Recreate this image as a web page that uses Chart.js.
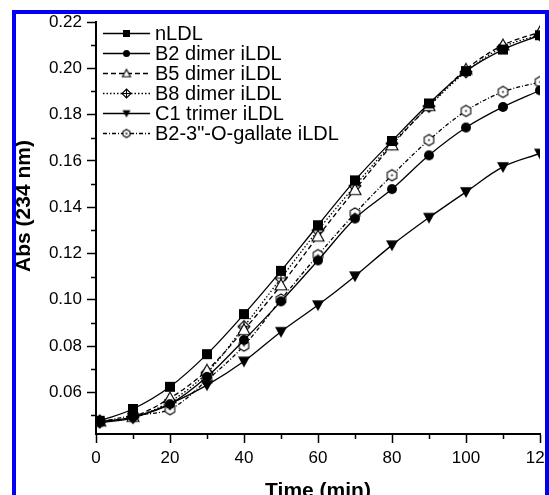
<!DOCTYPE html>
<html>
<head>
<meta charset="utf-8">
<script src="https://cdn.jsdelivr.net/npm/chart.js@4.4.1/dist/chart.umd.min.js"></script>
<style>
  html, body { margin: 0; padding: 0; background: #fff; overflow: hidden; }
  #wrap { position: relative; width: 549px; height: 495px; }
  #frame {
    position: absolute; left: 12px; top: 10px; width: 537px; height: 600px;
    box-sizing: border-box; border: 4px solid rgb(0, 0, 245); pointer-events: none;
  }
</style>
</head>
<body>
<div id="wrap">
  <canvas id="c" width="549" height="495"></canvas>
  <div id="frame"></div>
</div>
<script>
// Sampling times (min)
const times = [1, 10, 20, 30, 40, 50, 60, 70, 80, 90, 100, 110, 120];

// Absorbance at 234 nm for each LDL preparation
const nLDL      = [0.0477, 0.0528, 0.0624, 0.0765, 0.0938, 0.1125, 0.1322, 0.1516, 0.1686, 0.1848, 0.1988, 0.2081, 0.2143];
const b2Dimer   = [0.0472, 0.0493, 0.0549, 0.0667, 0.0826, 0.0993, 0.1170, 0.1351, 0.1478, 0.1624, 0.1744, 0.1833, 0.1905];
const b5Dimer   = [0.0475, 0.0495, 0.0575, 0.0695, 0.0870, 0.1063, 0.1274, 0.1475, 0.1668, 0.1838, 0.1995, 0.2100, 0.2157];
const b8Dimer   = [0.0475, 0.0492, 0.0560, 0.0685, 0.0884, 0.1093, 0.1300, 0.1492, 0.1675, 0.1836, 0.1985, 0.2092, 0.2145];
const c1Trimer  = [0.0468, 0.0490, 0.0550, 0.0631, 0.0734, 0.0862, 0.0977, 0.1102, 0.1236, 0.1355, 0.1466, 0.1574, 0.1632];
const b2Gallate = [0.0473, 0.0500, 0.0527, 0.0653, 0.0802, 0.1001, 0.1193, 0.1373, 0.1538, 0.1690, 0.1816, 0.1898, 0.1941];

const seriesLabels = ['nLDL', 'B2 dimer iLDL', 'B5 dimer iLDL', 'B8 dimer iLDL', 'C1 trimer iLDL', 'B2-3"-O-gallate iLDL'];

// Axis ticks
const xMajor = [0, 20, 40, 60, 80, 100, 120];
const xMinor = [10, 30, 50, 70, 90, 110];
const yMajor = [0.06, 0.08, 0.10, 0.12, 0.14, 0.16, 0.18, 0.20, 0.22];
const yMinor = [0.05, 0.07, 0.09, 0.11, 0.13, 0.15, 0.17, 0.19, 0.21];

const FONT = '"Liberation Sans", Arial, sans-serif';

// Marker glyphs drawn onto small canvases
function makeMarker(kind, s) {
  const pad = 2;
  const c = document.createElement('canvas');
  c.width = c.height = Math.ceil(s) + pad * 2;
  const g = c.getContext('2d');
  const m = c.width / 2, r = s / 2;
  g.lineWidth = 1.1;
  g.strokeStyle = '#000';
  g.fillStyle = '#000';
  g.beginPath();
  switch (kind) {
    case 'square':
      g.rect(m - r, m - r, s, s); g.fill(); break;
    case 'circle':
      g.arc(m, m, r, 0, Math.PI * 2); g.fill(); break;
    case 'triangleDown':
      g.moveTo(m - r, m - r * 0.8); g.lineTo(m + r, m - r * 0.8); g.lineTo(m, m + r);
      g.closePath(); g.fill(); break;
    case 'triangleOpen':
      g.moveTo(m, m - r); g.lineTo(m + r, m + r * 0.8); g.lineTo(m - r, m + r * 0.8);
      g.closePath(); g.fillStyle = '#fff'; g.fill(); g.stroke(); break;
    case 'diamondCross':
      g.moveTo(m, m - r); g.lineTo(m + r, m); g.lineTo(m, m + r); g.lineTo(m - r, m);
      g.closePath(); g.fillStyle = '#fff'; g.fill(); g.stroke();
      g.beginPath(); g.moveTo(m - r, m); g.lineTo(m + r, m); g.moveTo(m, m - r); g.lineTo(m, m + r); g.stroke();
      break;
    case 'hexDot':
      for (let i = 0; i < 6; i++) {
        const a = Math.PI / 6 + i * Math.PI / 3;
        const px = m + r * Math.cos(a), py = m + r * Math.sin(a);
        if (i === 0) g.moveTo(px, py); else g.lineTo(px, py);
      }
      g.closePath(); g.fillStyle = '#fff'; g.fill(); g.stroke();
      g.beginPath(); g.fillStyle = '#000'; g.arc(m, m, 0.9, 0, Math.PI * 2); g.fill();
      break;
  }
  return c;
}

const markerKinds = ['square', 'circle', 'triangleOpen', 'diamondCross', 'triangleDown', 'hexDot'];
const markerSizes = [10, 10, 12, 12, 12, 11];
const legendSizes = [7, 7, 8, 9, 8, 8];
const dashes = [[], [], [5, 3], [1.5, 2], [], [4, 2, 1, 2]];
const values = [nLDL, b2Dimer, b5Dimer, b8Dimer, c1Trimer, b2Gallate];

const chartMarkers = markerKinds.map((k, i) => makeMarker(k, markerSizes[i]));
const legendMarkers = markerKinds.map((k, i) => makeMarker(k, legendSizes[i]));

const datasets = values.map((vals, i) => ({
  label: seriesLabels[i],
  data: times.map((t, j) => ({ x: t, y: vals[j] })),
  borderColor: '#000',
  borderWidth: 1.3,
  borderDash: dashes[i],
  pointStyle: chartMarkers[i],
  pointRadius: 6,
  tension: 0.35,
  fill: false
}));

// Minor ticks, axis titles and the in-plot legend
const decorations = {
  id: 'decorations',
  afterDraw(chart) {
    const ctx = chart.ctx;
    const xs = chart.scales.x, ys = chart.scales.y;
    const area = chart.chartArea;
    ctx.save();
    ctx.strokeStyle = '#000';
    ctx.lineWidth = 1.5;
    ctx.beginPath();
    xMinor.forEach(v => {
      const px = Math.round(xs.getPixelForValue(v)) + 0.5;
      ctx.moveTo(px, area.bottom); ctx.lineTo(px, area.bottom + 5);
    });
    yMinor.forEach(v => {
      const py = Math.round(ys.getPixelForValue(v)) + 0.5;
      ctx.moveTo(area.left, py); ctx.lineTo(area.left - 5, py);
    });
    ctx.stroke();

    // Axis titles
    ctx.fillStyle = '#000';
    ctx.font = 'bold 21px ' + FONT;
    ctx.textAlign = 'center';
    ctx.textBaseline = 'top';
    ctx.fillText('Time (min)', (area.left + area.right) / 2, 481);
    ctx.save();
    ctx.translate(24, 206);
    ctx.rotate(-Math.PI / 2);
    ctx.textBaseline = 'middle';
    ctx.fillText('Abs (234 nm)', 0, 0);
    ctx.restore();

    // Legend
    ctx.font = '20px ' + FONT;
    ctx.textAlign = 'left';
    ctx.textBaseline = 'middle';
    chart.data.datasets.forEach((ds, i) => {
      const y = 33 + i * 20;
      ctx.beginPath();
      ctx.setLineDash(ds.borderDash || []);
      ctx.lineWidth = 1.3;
      ctx.moveTo(103, y + 0.5); ctx.lineTo(150, y + 0.5);
      ctx.stroke();
      ctx.setLineDash([]);
      const mk = legendMarkers[i];
      ctx.drawImage(mk, 126.5 - mk.width / 2, y + 0.5 - mk.height / 2);
      ctx.fillText(ds.label, 155, y + 1);
    });
    ctx.restore();
  }
};

new Chart(document.getElementById('c'), {
  type: 'line',
  data: { datasets },
  options: {
    responsive: false,
    animation: false,
    events: [],
    layout: { padding: { top: 22, right: 9, left: 0, bottom: 0 } },
    plugins: { legend: { display: false }, tooltip: { enabled: false } },
    scales: {
      x: {
        type: 'linear',
        min: 0, max: 120,
        afterBuildTicks: s => { s.ticks = xMajor.map(v => ({ value: v })); },
        afterFit: s => { s.height = 61; s.paddingLeft = 0; s.paddingRight = 0; },
        border: { display: true, color: '#000', width: 2 },
        grid: { drawOnChartArea: false, drawTicks: true, tickLength: 9, tickColor: '#000', tickWidth: 1.5 },
        ticks: { color: '#000', font: { family: FONT, size: 17 }, padding: 5, maxRotation: 0, autoSkip: false }
      },
      y: {
        type: 'linear',
        min: 0.042, max: 0.22,
        afterBuildTicks: s => { s.ticks = yMajor.map(v => ({ value: v })); },
        afterFit: s => { s.width = 96; s.paddingTop = 0; s.paddingBottom = 0; },
        border: { display: true, color: '#000', width: 2 },
        grid: { drawOnChartArea: false, drawTicks: true, tickLength: 9, tickColor: '#000', tickWidth: 1.5 },
        ticks: {
          color: '#000', font: { family: FONT, size: 17 }, padding: 5, autoSkip: false,
          callback: v => v.toFixed(2)
        }
      }
    }
  },
  plugins: [decorations]
});
</script>
</body>
</html>
